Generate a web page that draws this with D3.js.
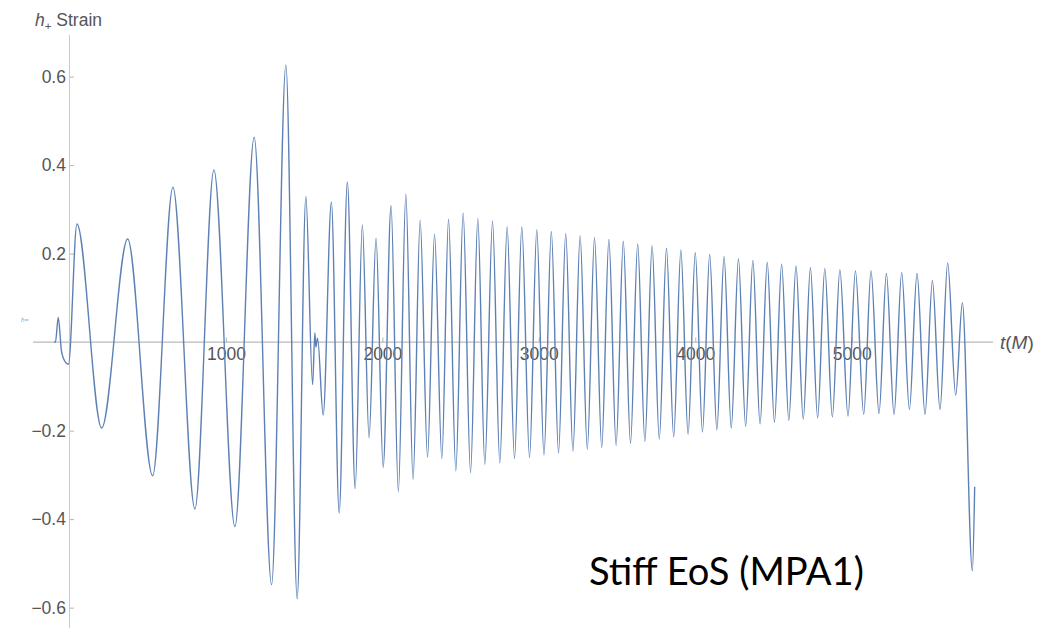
<!DOCTYPE html>
<html>
<head>
<meta charset="utf-8">
<script src="https://cdn.jsdelivr.net/npm/d3@7"></script>
<style>
  html, body { margin: 0; padding: 0; background: #ffffff; }
  svg { display: block; }
</style>
</head>
<body>
<svg id="chart" width="1045" height="633"></svg>
<script>
// Plus-polarisation strain h+ of a neutron-star merger waveform (MPA1 equation of state).
// Each pair below is a turning point of the signal: time in units of M, strain value.
const timeM = [
  -99, -89.5, -71.6, -51.1, -38.3, -6.4,
  47.9, 205.8, 371.9, 531.6, 661.3, 801.9, 923.3, 1057.5,
  1180.8, 1292.0, 1383.4, 1455.6, 1511.2, 1554.0, 1568.7, 1575.1, 1586.0,
  1621.7, 1674.1, 1724.0, 1776.4, 1826.2, 1872.2, 1915.0, 1959.7, 2005.1,
  2055.6, 2102.2, 2150.2, 2196.2, 2241.5, 2288.8, 2333.5, 2380.2, 2423.0,
  2469.6, 2516.3, 2563.6, 2610.2, 2654.9, 2704.2, 2750.8, 2797.4, 2844.7,
  2891.4, 2940.6, 2987.2,
  3033, 3080, 3126, 3172, 3218, 3264, 3310, 3356, 3402, 3448,
  3494, 3540, 3586, 3632, 3678, 3724, 3770, 3816, 3862, 3908,
  3954, 4000, 4046, 4092, 4138, 4184, 4230, 4276, 4322, 4368,
  4414, 4460, 4506, 4552, 4598, 4644, 4690, 4736, 4782, 4828,
  4876, 4924.5,
  4976.4, 5023.6, 5076.7, 5123.3, 5174.4, 5221.7, 5270.3, 5319.5,
  5368.7, 5417.3, 5468.4, 5515.7, 5564.2, 5613.4, 5664.5, 5707.3,
  5771.2, 5785.9
];
const strain = [
  0, 0, 0.056, -0.02, -0.037, -0.05,
  0.267, -0.194, 0.233, -0.302, 0.350, -0.377, 0.389, -0.417,
  0.463, -0.548, 0.626, -0.580, 0.329, -0.096, 0.021, -0.011, 0.009,
  -0.165, 0.317, -0.386, 0.362, -0.331, 0.265, -0.216, 0.235, -0.283,
  0.308, -0.338, 0.334, -0.310, 0.275, -0.260, 0.244, -0.263, 0.278,
  -0.291, 0.292, -0.295, 0.279, -0.276, 0.273, -0.273, 0.260, -0.263,
  0.260, -0.261, 0.254,
  -0.255, 0.250, -0.250, 0.245, -0.246, 0.240, -0.242, 0.236, -0.238, 0.232,
  -0.233, 0.228, -0.228, 0.222, -0.224, 0.218, -0.219, 0.212, -0.214, 0.208,
  -0.208, 0.202, -0.203, 0.198, -0.198, 0.193, -0.194, 0.188, -0.190, 0.184,
  -0.185, 0.180, -0.181, 0.176, -0.177, 0.172, -0.174, 0.168, -0.171, 0.166,
  -0.169, 0.163,
  -0.167, 0.161, -0.163, 0.161, -0.161, 0.155, -0.163, 0.157,
  -0.152, 0.155, -0.163, 0.139, -0.152, 0.179, -0.120, 0.089,
  -0.517, -0.327
];

// Axis ticks
const xMajorTicks = [1000, 2000, 3000, 4000, 5000];
const xMinorTicks = d3.range(-200, 5801, 200);
const yMajorTicks = [-0.6, -0.4, -0.2, 0.2, 0.4, 0.6];
const yMinorTicks = d3.range(-12, 14).map(i => i * 0.05);

const svg = d3.select("#chart");

const x = d3.scaleLinear().domain([-233, 5903]).range([33, 993]);
const y = d3.scaleLinear().domain([-0.646, 0.694]).range([628, 35]);

const axisColor = "#b4b4b4";
const labelColor = "#555555";
const labelFont = "'Liberation Sans', Arial, sans-serif";
const fmtY = v => (v < 0 ? "\u2212" : "") + Math.abs(v).toFixed(1);

// Horizontal axis (through h = 0), ticks pointing up, labels below
const gx = svg.append("g").attr("transform", `translate(0,${y(0)})`);
gx.call(d3.axisBottom(x).tickValues(xMinorTicks).tickSize(-2.5).tickFormat(""))
  .call(g => g.select(".domain").remove());
gx.call(d3.axisBottom(x).tickValues(xMajorTicks).tickSize(-4.5).tickPadding(5)
  .tickFormat(d3.format("d")))
  .call(g => g.select(".domain").remove());
gx.append("line").attr("x1", x.range()[0]).attr("x2", x.range()[1])
  .attr("stroke", "#a8a8a8").attr("stroke-width", 1);
gx.selectAll(".tick line").attr("stroke", axisColor);
gx.selectAll(".tick text").attr("fill", labelColor)
  .style("font-family", labelFont).style("font-size", "17.5px");

// Vertical axis (through t = 0), ticks pointing right, labels left
const gy = svg.append("g").attr("transform", `translate(${x(0)},0)`);
gy.call(d3.axisLeft(y).tickValues(yMinorTicks).tickSize(-2.5).tickFormat(""))
  .call(g => g.select(".domain").remove());
gy.call(d3.axisLeft(y).tickValues(yMajorTicks).tickSize(-4.5).tickPadding(3.5)
  .tickFormat(fmtY))
  .call(g => g.select(".domain").remove());
gy.append("line").attr("y1", y.range()[0]).attr("y2", y.range()[1])
  .attr("stroke", "#c8c8c8").attr("stroke-width", 1);
gy.selectAll(".tick line").attr("stroke", axisColor);
gy.selectAll(".tick text").attr("fill", labelColor)
  .style("font-family", labelFont).style("font-size", "17.5px");

// Axis labels
const yLab = svg.append("text").attr("x", 35).attr("y", 26)
  .attr("fill", labelColor).style("font-family", labelFont).style("font-size", "17.5px");
yLab.append("tspan").style("font-style", "italic").text("h");
yLab.append("tspan").attr("dy", 4).style("font-size", "11.5px").text("+");
yLab.append("tspan").attr("dy", -4).text(" Strain");

const xLab = svg.append("text").attr("x", 1000).attr("y", y(0) + 7)
  .attr("fill", labelColor).style("font-family", labelFont).style("font-size", "19px");
xLab.append("tspan").style("font-style", "italic").text("t");
xLab.append("tspan").text("(");
xLab.append("tspan").style("font-style", "italic").text("M");
xLab.append("tspan").text(")");

// Waveform
const line = d3.line()
  .x((d, i) => x(timeM[i]))
  .y(d => y(d))
  .curve(d3.curveMonotoneX);
svg.append("path")
  .datum(strain)
  .attr("d", line)
  .attr("fill", "none")
  .attr("stroke", "#5e81b5")
  .attr("stroke-width", 1.4)
  .attr("stroke-linejoin", "round");

// Small stray glyph left of the vertical axis
svg.append("text").attr("x", 21).attr("y", 322)
  .attr("fill", "#7f9cc8").style("font-family", labelFont).style("font-size", "6px")
  .text("\u210F=");

// Model annotation
const note = svg.append("text").attr("x", 589).attr("y", 585)
  .attr("fill", "#000").style("font-family", "Lato, 'Open Sans', sans-serif")
  .style("font-size", "31px").text("Stiff EoS (MPA1)");
const w = note.node().getComputedTextLength();
note.style("font-size", (31 * 275 / w).toFixed(2) + "px");
</script>
</body>
</html>
